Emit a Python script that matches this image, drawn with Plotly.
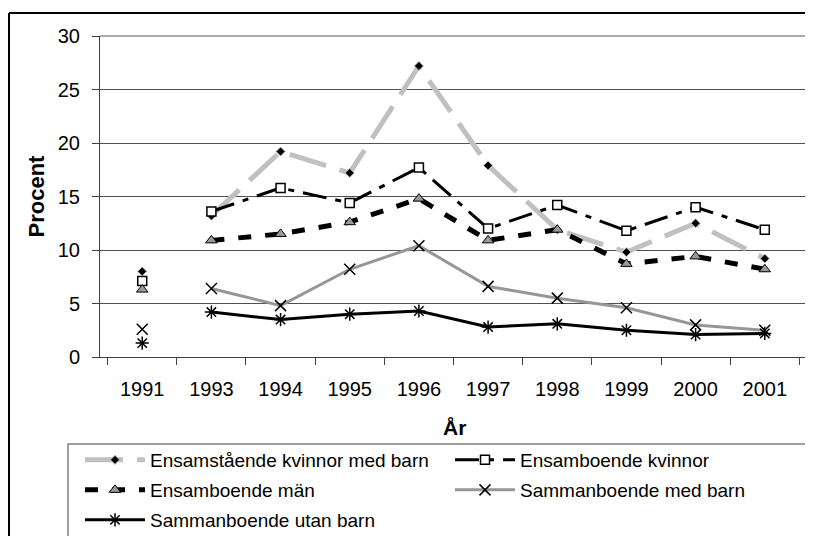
import plotly.graph_objects as go

# Andel (%) per år och hushållstyp
years = ["1991", "1993", "1994", "1995", "1996", "1997", "1998", "1999", "2000", "2001"]
kvinnor_med_barn = [8.0, 13.2, 19.2, 17.2, 27.2, 17.9, 11.9, 9.8, 12.5, 9.2]
ensamboende_kvinnor = [7.1, 13.6, 15.8, 14.4, 17.7, 12.0, 14.2, 11.8, 14.0, 11.9]
ensamboende_man = [6.3, 10.9, 11.5, 12.6, 14.8, 10.9, 11.9, 8.7, 9.4, 8.2]
samman_med_barn = [2.6, 6.4, 4.8, 8.2, 10.4, 6.6, 5.5, 4.6, 3.0, 2.5]
samman_utan_barn = [1.3, 4.2, 3.5, 4.0, 4.3, 2.8, 3.1, 2.5, 2.1, 2.2]

names = [
    "Ensamstående kvinnor med barn",
    "Ensamboende kvinnor",
    "Ensamboende män",
    "Sammanboende med barn",
    "Sammanboende utan barn",
]

FONT = "Arial, Liberation Sans, sans-serif"
OFF = 8  # sidans body-marginal


def _split(vals):
    # 1992 saknas: bryt linjen mellan 1991 och 1993
    x = [years[0], None] + years[1:]
    y = [vals[0], None] + vals[1:]
    return x, y


styles = [
    dict(line=dict(color="#c0c0c0", width=5, dash="38px,14px"),
         marker=dict(symbol="diamond", size=7, color="black",
                     line=dict(color="#c0c0c0", width=1))),
    dict(line=dict(color="black", width=3, dash="24px,9px,6px,9px"),
         marker=dict(symbol="square", size=9, color="white",
                     line=dict(color="black", width=1.5))),
    dict(line=dict(color="black", width=5, dash="13px,14px"),
         marker=dict(symbol="triangle-up", size=10, color="#999999",
                     line=dict(color="black", width=1))),
    dict(line=dict(color="#969696", width=3),
         marker=dict(symbol="x-thin-open", size=11, color="black",
                     line=dict(color="black", width=1.5))),
    dict(line=dict(color="black", width=3),
         marker=dict(symbol="asterisk-open", size=11, color="black",
                     line=dict(color="black", width=1.5))),
]

series = [kvinnor_med_barn, ensamboende_kvinnor, ensamboende_man,
          samman_med_barn, samman_utan_barn]

# en förklaring per post: (kolumn-x, rad-y) i skärmpixlar
legend_pos = [(150, 460), (520, 460), (150, 490), (520, 490), (150, 520)]
legend_ids = ["legend", "legend2", "legend3", "legend4", "legend5"]

fig = go.Figure()
for name, vals, st, leg in zip(names, series, styles, legend_ids):
    x, y = _split(vals)
    fig.add_trace(go.Scatter(x=x, y=y, name=name, mode="lines+markers",
                             line=st["line"], marker=st["marker"],
                             connectgaps=False, legend=leg))

W, H = 813 - OFF, 536 - OFF


def px_x(p):
    return (p - 100) / 707


def px_y(p):
    return (357 - p) / 321


shapes = [
    # ram runt diagramytan (grå överkant och högerkant)
    dict(type="line", xref="paper", yref="paper", x0=0, x1=1, y0=1, y1=1,
         line=dict(color="#8c8c8c", width=1.5), layer="above"),
    dict(type="line", xref="paper", yref="paper", x0=1, x1=1, y0=0, y1=1,
         line=dict(color="#8c8c8c", width=1.5), layer="above"),
    # yttre ram
    dict(type="line", xref="paper", yref="paper", x0=px_x(9), x1=px_x(830),
         y0=px_y(13), y1=px_y(13), line=dict(color="black", width=2)),
    dict(type="line", xref="paper", yref="paper", x0=px_x(9), x1=px_x(9),
         y0=px_y(13), y1=px_y(560), line=dict(color="black", width=2)),
    # förklaringsruta
    dict(type="rect", xref="paper", yref="paper", x0=px_x(68), x1=px_x(830),
         y0=px_y(444), y1=px_y(560), line=dict(color="#808080", width=1.5)),
]

legends = {}
for leg, (lx, ly) in zip(legend_ids, legend_pos):
    legends[leg] = dict(
        xref="container", yref="container",
        x=(lx - 70 - OFF) / W, y=1 - (ly - 19 - OFF) / H,
        xanchor="left", yanchor="top",
        font=dict(family=FONT, size=19, color="black"),
        bgcolor="rgba(0,0,0,0)", borderwidth=0, itemwidth=60,
    )

fig.update_layout(
    width=W,
    height=H,
    margin=dict(l=100 - OFF, r=6, t=36 - OFF, b=H - (357 - OFF), autoexpand=False),
    paper_bgcolor="white",
    plot_bgcolor="white",
    font=dict(family=FONT, size=20, color="black"),
    shapes=shapes,
    showlegend=True,
    annotations=[
        dict(text="<b>Procent</b>", xref="paper", yref="paper",
             x=px_x(36), y=0.5, textangle=-90, showarrow=False,
             xanchor="center", yanchor="middle", font=dict(size=22)),
        dict(text="<b>År</b>", xref="paper", yref="paper",
             x=px_x(454), y=px_y(427), showarrow=False,
             xanchor="center", yanchor="middle", font=dict(size=21)),
    ],
    xaxis=dict(
        type="category",
        categoryorder="array",
        categoryarray=years,
        tickson="boundaries",
        ticks="outside", ticklen=7, tickcolor="#404040",
        showline=True, linecolor="#404040", linewidth=1,
        showgrid=False, zeroline=False,
        tickfont=dict(size=20),
        ticklabelstandoff=14,
    ),
    yaxis=dict(
        range=[0, 30], dtick=5, tick0=0,
        ticks="outside", ticklen=7, tickcolor="#404040",
        showline=True, linecolor="#404040", linewidth=1,
        showgrid=True, gridcolor="#505050", gridwidth=1,
        zeroline=False,
        tickfont=dict(size=20),
        ticklabelstandoff=8,
    ),
    **legends,
)

fig.write_html("out.html")
